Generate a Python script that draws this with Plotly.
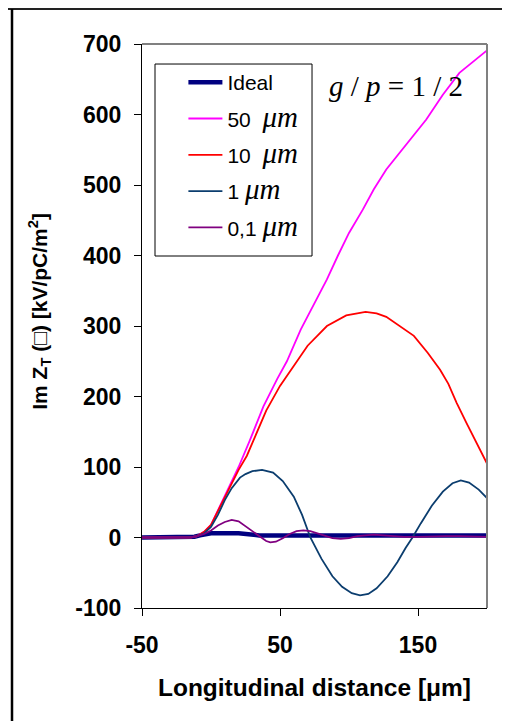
import plotly.graph_objects as go

# ---- data ----
x_ideal = [-50, -15, -12, -8, -2, 0, 20, 25, 35, 200]
y_ideal = [0, 0, 1, 3, 5, 6, 6, 5, 3, 3]

x_50 = [-50, -15, -10, -5, 0, 5, 10, 15, 20, 28, 38, 48, 55, 65, 75, 84, 92, 100,
        110, 118, 127, 135, 145, 156, 168, 180, 190, 200]
y_50 = [0, 0, 2, 8, 18, 38, 58, 79, 100, 137, 186, 225, 250, 295, 333, 366, 400, 432,
        465, 494, 522, 542, 567, 593, 628, 659, 675, 691]

x_10 = [-50, -15, -10, -5, 0, 5, 10, 15, 20, 26, 31, 40, 50, 60, 70, 84, 98, 112,
        120, 127, 137, 147, 157, 166, 172, 178, 185, 191, 196, 200]
y_10 = [0, 0, 2, 8, 18, 37, 56, 76, 96, 116, 139, 180, 215, 243, 272, 300, 315, 320,
        318, 313, 300, 286, 262, 238, 218, 191, 163, 139, 120, 105]

x_1 = [-50, -15, -10, -5, 0, 5, 10, 15, 21, 25, 30, 37, 45, 52, 60, 66, 72, 80, 88,
       95, 102, 108, 114, 120, 128, 135, 141, 146, 152, 160, 168, 175, 181, 187, 194, 200]
y_1 = [0, 0, 2, 6, 15, 32, 53, 70, 85, 90, 94, 96, 92, 80, 58, 32, 0, -30, -55,
       -70, -79, -82, -80, -72, -55, -35, -15, 0, 20, 45, 65, 77, 81, 78, 68, 56]

x_01 = [-50, -15, -10, -5, 0, 5, 10, 15, 20, 25, 30, 35, 40, 43, 47, 52, 57, 62, 67,
        72, 77, 82, 88, 94, 100, 106, 112, 118, 125, 132, 140, 150, 160, 170, 180, 190, 200]
y_01 = [0, 0, 2, 5, 10, 17, 22, 25, 23, 16, 8, 1, -5, -7, -6, -1, 5, 9, 10,
        9, 6, 2, -1, -2, -1, 2, 3, 4, 3, 2, 1, 1, 2, 2, 2, 1, 1]

series_names = ["Ideal", "50", "10", "1", "0,1"]
x_ticks = [-50, 50, 150]
y_ticks = [-100, 0, 100, 200, 300, 400, 500, 600, 700]

UM = "<span style=\"font-family:'Liberation Serif';font-style:italic;font-size:29px\">μm</span>"
legend_labels = ["Ideal", "50  " + UM, "10  " + UM, "1 " + UM, "0,1 " + UM]

fig = go.Figure()
traces = [
    (x_ideal, y_ideal, "#000080", 4.5),
    (x_50, y_50, "#FF00FF", 1.8),
    (x_10, y_10, "#FF0000", 1.8),
    (x_1, y_1, "#0B3D6E", 1.8),
    (x_01, y_01, "#800080", 1.8),
]
for i, (xs, ys, col, w) in enumerate(traces):
    fig.add_trace(go.Scatter(
        x=xs, y=ys, mode="lines", name=legend_labels[i],
        line=dict(color=col, width=w),
        legendgroup="g%d" % i, legendrank=i + 1,
    ))

font_family = "Liberation Sans, Arial, sans-serif"

fig.update_layout(
    width=510, height=721,
    margin=dict(l=134, r=31, t=36, b=121),
    paper_bgcolor="white", plot_bgcolor="white",
    showlegend=True,
    legend=dict(
        x=0.12, y=0.968, xanchor="left", yanchor="top",
        bgcolor="rgba(0,0,0,0)", borderwidth=0,
        font=dict(family=font_family, size=21, color="black"),
        tracegroupgap=6, traceorder="grouped", itemwidth=34,
    ),
    xaxis=dict(
        range=[-50, 200], tickvals=x_ticks, ticktext=[str(v) for v in x_ticks],
        ticks="outside", ticklen=7, tickcolor="black", tickwidth=1,
        showline=True, linecolor="black", linewidth=1,
        showgrid=False, zeroline=False,
        tickfont=dict(family=font_family, size=23, color="black", weight="bold"),
        ticklabelstandoff=9,
        title=dict(text="Longitudinal distance [μm]", standoff=22,
                   font=dict(family=font_family, size=24.5, color="black", weight="bold")),
    ),
    yaxis=dict(
        range=[-100, 700], tickvals=y_ticks, ticktext=[str(v) for v in y_ticks],
        ticks="outside", ticklen=7, tickcolor="black", tickwidth=1,
        showline=True, linecolor="black", linewidth=1,
        showgrid=False, zeroline=False,
        tickfont=dict(family=font_family, size=23, color="black", weight="bold"),
        ticklabelstandoff=8,
        title=dict(text="<span>" + "\u00a0" * 5 + "</span>Im Z<sub>T</sub> (□) [kV/pC/m<sup>2</sup>]",
                   standoff=22,
                   font=dict(family=font_family, size=21, color="black", weight="bold")),
    ),
    annotations=[dict(
        xref="paper", yref="paper", x=0.736, y=0.9255, xanchor="center", yanchor="middle",
        text="<i>g</i> / <i>p</i> = 1 / 2", showarrow=False,
        font=dict(family="Liberation Serif, Times New Roman, serif", size=29, color="black"),
    )],
    shapes=[
        # legend box
        dict(type="rect", xref="paper", yref="paper", x0=0.0377, x1=0.4928, y0=0.6241, y1=0.9645,
             line=dict(color="black", width=1), fillcolor="white", layer="above"),
        dict(type="line", xref="paper", yref="paper", x0=0, x1=1, y0=1, y1=1,
             line=dict(color="#808080", width=2)),
        dict(type="line", xref="paper", yref="paper", x0=1, x1=1, y0=0, y1=1,
             line=dict(color="#808080", width=2)),
        dict(type="line", xref="paper", yref="paper", x0=-0.41, x1=1.1, y0=1.062, y1=1.062,
             line=dict(color="#222222", width=2)),
        dict(type="line", xref="paper", yref="paper", x0=-0.3768, x1=-0.3768, y0=-0.23, y1=1.062,
             line=dict(color="black", width=2.5)),
    ],
)

fig.write_html("out.html")
